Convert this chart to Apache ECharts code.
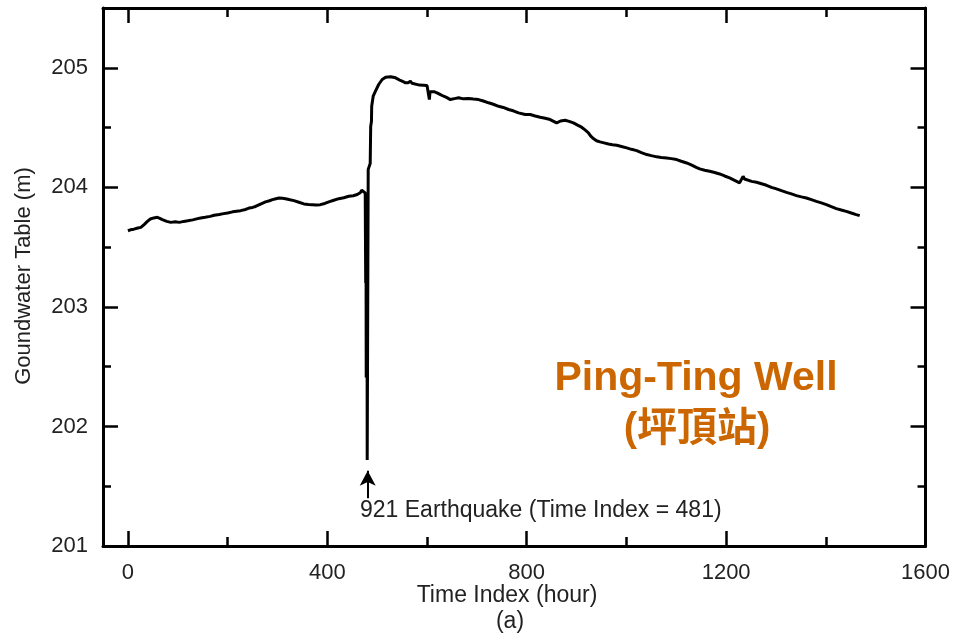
<!DOCTYPE html>
<html>
<head>
<meta charset="utf-8">
<script src="https://cdn.jsdelivr.net/npm/echarts@6/dist/echarts.min.js"></script>
<style>
html,body{margin:0;padding:0;background:#fff;}
#chart{width:953px;height:637px;}
</style>
</head>
<body>
<div id="chart"></div>
<script>
// ---- data ----
const timeIndex = [
  0, 5, 12, 20, 26, 33, 39, 45, 52, 59, 64, 69, 78, 86, 95, 103, 112, 120, 130, 140,
  146, 155, 165, 173, 183, 192, 200, 210, 218, 226, 236, 243, 250, 256, 266, 276, 284, 290,
  297, 303, 310, 316, 325, 333, 343, 353, 362, 370, 378, 386, 395, 403, 413, 423, 433, 443,
  452, 460, 466, 469, 472, 476,
  477, 477.5, 478, 478.5, 479, 479.5, 480, 482, 486, 487, 488.5, 489, 492, 496.6, 503, 510,
  517, 527, 537, 546.6, 552, 556.7, 562, 566.7, 570, 573, 585, 600, 602, 604.7, 606, 608.7,
  614, 620, 627, 633.4, 640, 646.8, 655, 663.4, 673, 683.4, 693, 703.4, 713, 723.5, 733,
  743.5, 753, 763.5, 773, 783.5, 797, 807, 817, 827, 837, 847, 855, 860, 868, 877, 885,
  893.6, 902, 910, 917, 923.8, 928, 933.7, 940, 947, 955, 963.8, 972, 980.6, 990, 1000.6,
  1010, 1020.6, 1030, 1040.7, 1050, 1060.7, 1070, 1080.7, 1090, 1100.7, 1110, 1120.7, 1130,
  1140, 1147, 1157, 1167, 1177, 1187, 1197, 1207, 1217, 1227, 1231, 1234, 1237, 1241, 1251,
  1261, 1271, 1281, 1291, 1301, 1311, 1321, 1331, 1341, 1351, 1361, 1371, 1381, 1391, 1401,
  1411, 1421, 1431, 1441, 1451, 1461, 1468
];
const waterLevel = [
  203.637, 203.645, 203.65, 203.66, 203.665, 203.69, 203.715, 203.735, 203.744, 203.749,
  203.74, 203.73, 203.715, 203.707, 203.712, 203.707, 203.715, 203.72, 203.728, 203.738,
  203.744, 203.75, 203.757, 203.766, 203.772, 203.78, 203.786, 203.795, 203.8, 203.805,
  203.815, 203.827, 203.832, 203.84, 203.86, 203.878, 203.888, 203.897, 203.905, 203.911,
  203.908, 203.905, 203.896, 203.889, 203.875, 203.861, 203.857, 203.855, 203.853, 203.855,
  203.865, 203.878, 203.892, 203.905, 203.913, 203.925, 203.93, 203.94, 203.955, 203.975,
  203.965, 203.953,
  203.2, 203.95, 202.41, 203.9, 203.23, 203.9, 201.72, 204.15, 204.2, 204.51, 204.55, 204.678,
  204.762, 204.804, 204.86, 204.902, 204.921, 204.925, 204.916, 204.894, 204.885, 204.874,
  204.875, 204.888, 204.87, 204.854, 204.855, 204.852, 204.85, 204.734, 204.8, 204.804,
  204.8, 204.79, 204.775, 204.762, 204.75, 204.734, 204.742, 204.749, 204.74, 204.743,
  204.738, 204.734, 204.722, 204.707, 204.695, 204.678, 204.668, 204.651, 204.64, 204.623,
  204.609, 204.609, 204.597, 204.586, 204.578, 204.567, 204.55, 204.539, 204.555, 204.561,
  204.552, 204.539, 204.52, 204.503, 204.48, 204.456, 204.43, 204.408, 204.39, 204.38,
  204.372, 204.363, 204.357, 204.352, 204.342, 204.33, 204.318, 204.307, 204.29, 204.274,
  204.265, 204.255, 204.25, 204.246, 204.24, 204.232, 204.218, 204.204, 204.188, 204.167,
  204.154, 204.143, 204.134, 204.124, 204.112, 204.095, 204.079, 204.058, 204.037, 204.045,
  204.092, 204.07, 204.059, 204.05, 204.042, 204.03, 204.017, 204.0, 203.987, 203.972,
  203.958, 203.945, 203.931, 203.92, 203.911, 203.897, 203.883, 203.87, 203.855, 203.838,
  203.822, 203.81, 203.799, 203.785, 203.772, 203.763
];
const xMajorTicks = [0, 400, 800, 1200, 1600];
const xMinorTicks = [200, 600, 1000, 1400];
const yMajorTicks = [201, 202, 203, 204, 205];
const yMinorTicks = [201.5, 202.5, 203.5, 204.5];
const quakeTime = 481;
const arrowFrom = 201.40;
const arrowTo = 201.63;
const xRange = [-50, 1600];
const yRange = [201, 205.5];

// ---- chart ----
const chart = echarts.init(document.getElementById('chart'));
const ink = '#000';
const labelColor = '#222';
const baseFont = '"Liberation Sans", Arial, sans-serif';

function xAxisDef(position, ticks, len, showLine, showLabels) {
  return {
    type: 'value', position: position, min: xRange[0], max: xRange[1],
    axisLine: { show: showLine, onZero: false, lineStyle: { color: ink, width: 3 } },
    axisTick: { show: true, inside: true, length: len, customValues: ticks, lineStyle: { color: ink, width: 2.5 } },
    axisLabel: { show: showLabels, customValues: ticks, fontSize: 22, color: labelColor, margin: 16, fontFamily: baseFont,
      formatter: v => String(v) },
    splitLine: { show: false }
  };
}
function yAxisDef(position, ticks, len, showLine, showLabels) {
  return {
    type: 'value', position: position, min: yRange[0], max: yRange[1],
    axisLine: { show: showLine, onZero: false, lineStyle: { color: ink, width: 3 } },
    axisTick: { show: true, inside: true, length: len, customValues: ticks, lineStyle: { color: ink, width: 2.5 } },
    axisLabel: { show: showLabels, customValues: ticks, fontSize: 22, color: labelColor, margin: 15, fontFamily: baseFont,
      formatter: v => String(v) },
    splitLine: { show: false }
  };
}

const points = timeIndex.map((t, i) => [t, waterLevel[i]]);

chart.setOption({
  animation: false,
  backgroundColor: '#fff',
  grid: { left: 103, right: 27, top: 8, bottom: 91, containLabel: false },
  xAxis: [
    xAxisDef('bottom', xMajorTicks, 15, true, true),
    xAxisDef('bottom', xMinorTicks, 9, false, false),
    xAxisDef('top', xMajorTicks, 15, true, false),
    xAxisDef('top', xMinorTicks, 9, false, false)
  ],
  yAxis: [
    yAxisDef('left', yMajorTicks, 15, true, true),
    yAxisDef('left', yMinorTicks, 8, false, false),
    yAxisDef('right', yMajorTicks, 15, true, false),
    yAxisDef('right', yMinorTicks, 8, false, false)
  ],
  series: [{
    type: 'line',
    xAxisIndex: 0, yAxisIndex: 0,
    data: points,
    showSymbol: false,
    symbol: 'none',
    lineStyle: { color: ink, width: 3 },
    markLine: {
      silent: true,
      symbol: ['none', 'arrow'],
      symbolSize: [12, 15],
      label: { show: false },
      lineStyle: { color: ink, width: 2, type: 'solid' },
      data: [[{ coord: [quakeTime, arrowFrom] }, { coord: [quakeTime, arrowTo] }]]
    }
  }],
  graphic: [
    { type: 'text', x: 24, y: 276, rotation: Math.PI / 2,
      style: { text: 'Goundwater Table (m)', font: '22px ' + baseFont, fill: labelColor, align: 'center', verticalAlign: 'middle' } },
    { type: 'text', x: 507, y: 596,
      style: { text: 'Time Index (hour)', font: '23px ' + baseFont, fill: labelColor, align: 'center', verticalAlign: 'middle' } },
    { type: 'text', x: 510, y: 622,
      style: { text: '(a)', font: '23px ' + baseFont, fill: labelColor, align: 'center', verticalAlign: 'middle' } },
    { type: 'text', x: 360, y: 511,
      style: { text: '921 Earthquake (Time Index = 481)', font: '23px ' + baseFont, fill: labelColor, align: 'left', verticalAlign: 'middle' } },
    { type: 'text', x: 696, y: 379,
      style: { text: 'Ping-Ting Well', font: 'bold 41px ' + baseFont, fill: '#CC6600', align: 'center', verticalAlign: 'middle' } },
    { type: 'text', x: 697, y: 430,
      style: { text: '(坪頂站)', font: 'bold 40px "Liberation Sans", "Noto Sans CJK TC", sans-serif', fill: '#CC6600', align: 'center', verticalAlign: 'middle' } }
  ]
});
</script>
</body>
</html>
